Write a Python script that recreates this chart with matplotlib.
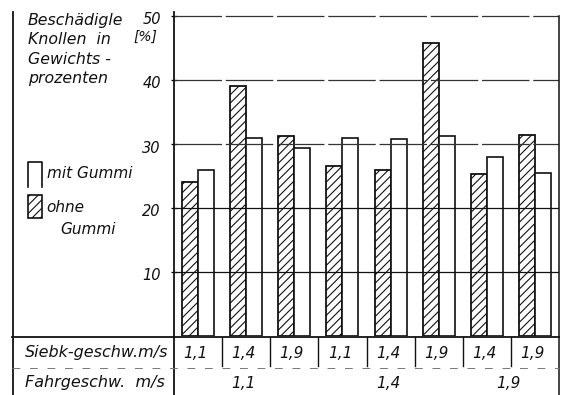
import matplotlib
matplotlib.use("Agg")
import matplotlib.pyplot as plt
from matplotlib.lines import Line2D
from matplotlib.patches import Rectangle
from matplotlib.transforms import blended_transform_factory, ScaledTranslation
import numpy as np

# data
siebk = ["1,1", "1,4", "1,9", "1,1", "1,4", "1,9", "1,4", "1,9"]
fahr = ["1,1", "1,4", "1,9"]
fahr_groups = [[0, 1, 2], [3, 4, 5], [6, 7]]
ohne_gummi = [24.0, 39.0, 31.3, 26.5, 26.0, 45.8, 25.3, 31.4]
mit_gummi = [26.0, 31.0, 29.4, 31.0, 30.8, 31.3, 27.9, 25.4]
yticks = [10, 20, 30, 40, 50]

W, H = 566, 395
INK = "#111111"
FONT = dict(family="DejaVu Sans", style="italic", color=INK)

plt.rcParams["hatch.linewidth"] = 0.8
plt.rcParams["hatch.color"] = INK


def fx(x):
    return x / W


def fy(y):
    return 1 - y / H


fig = plt.figure(figsize=(W / 100, H / 100), dpi=100)
fig.patch.set_facecolor("white")
ax = fig.add_axes([fx(174), fy(336), fx(559) - fx(174), fy(12.8) - fy(336)])
ax.set_facecolor("white")

x = np.arange(len(siebk))
w = 1 / 3
ax.bar(x - w / 2, ohne_gummi, w, facecolor="white", edgecolor=INK,
       hatch="////", linewidth=1.3, zorder=2)
ax.bar(x + w / 2, mit_gummi, w, facecolor="white", edgecolor=INK,
       linewidth=1.2, zorder=2)

for v in yticks:
    if v >= 30:
        ax.axhline(v, color="#333333", lw=0.9, dashes=(38, 3), zorder=3)
    else:
        ax.axhline(v, color=INK, lw=0.9, zorder=3)

ax.set_xlim(-0.5, len(siebk) - 0.5)
ax.set_ylim(0, 50.5)
ax.set_xticks([])
ax.set_yticks(yticks)
ax.set_yticklabels([str(v) for v in yticks], fontsize=10.5, fontstyle="italic",
                   color=INK)
ax.tick_params(axis="y", direction="inout", length=5, width=0.9, pad=7)
shift = ScaledTranslation(0, -0.025, fig.dpi_scale_trans)
for lbl in ax.get_yticklabels():
    lbl.set_transform(lbl.get_transform() + shift)
for s in ("top", "right", "bottom", "left"):
    ax.spines[s].set_visible(False)


def fline(xs, ys, **kw):
    kw.setdefault("color", INK)
    kw.setdefault("lw", 1.1)
    fig.add_artist(Line2D([fx(v) for v in xs], [fy(v) for v in ys], **kw))


# frame and table lines
fline([174, 174], [12, 395], lw=1.3)
fline([12.5, 12.5], [12, 395], lw=1.3)
fline([559, 559], [16, 395], lw=1.1)
fline([12, 559], [336.5, 336.5], lw=1.3)
fline([12, 559], [368, 368], lw=0.7, dashes=(8, 10), color="#777777")

bt = blended_transform_factory(ax.transData, fig.transFigure)
for b in x[:-1] + 0.5:
    fig.add_artist(Line2D([b, b], [fy(337), fy(366)], transform=bt,
                          color=INK, lw=1.0))

# table texts
fig.text(fx(25), fy(353), "Siebk-geschw.m/s", fontsize=11.5, va="center", **FONT)
fig.text(fx(25), fy(383), "Fahrgeschw.  m/s", fontsize=11.5, va="center", **FONT)
for xi, s in zip(x, siebk):
    fig.text(xi - 0.05, fy(353), s, transform=bt, ha="center", va="center",
             fontsize=11, **FONT)
for g, s in zip(fahr_groups, fahr):
    fig.text(np.mean(g) - 0.05, fy(383), s, transform=bt, ha="center", va="center",
             fontsize=11, **FONT)

# y-axis caption
for i, line in enumerate(["Beschädigle", "Knollen  in", "Gewichts -", "prozenten"]):
    fig.text(fx(28), fy(20 + 19.5 * i), line, fontsize=11.3, va="center", **FONT)
fig.text(fx(157), fy(37), "[%]", fontsize=10, ha="right", va="center", **FONT)

# legend
fline([28, 28, 42, 42], [187, 162, 162, 187], lw=1.2)
fig.add_artist(Rectangle((fx(28), fy(218)), fx(42) - fx(28), fy(195) - fy(218),
                         transform=fig.transFigure, facecolor="white",
                         edgecolor=INK, hatch="////", lw=1.2))
fig.text(fx(47), fy(174), "mit Gummi", fontsize=11, va="center", **FONT)
fig.text(fx(46), fy(208), "ohne", fontsize=11, va="center", **FONT)
fig.text(fx(60), fy(229), "Gummi", fontsize=11, va="center", **FONT)

fig.savefig("out.png", dpi=100)
